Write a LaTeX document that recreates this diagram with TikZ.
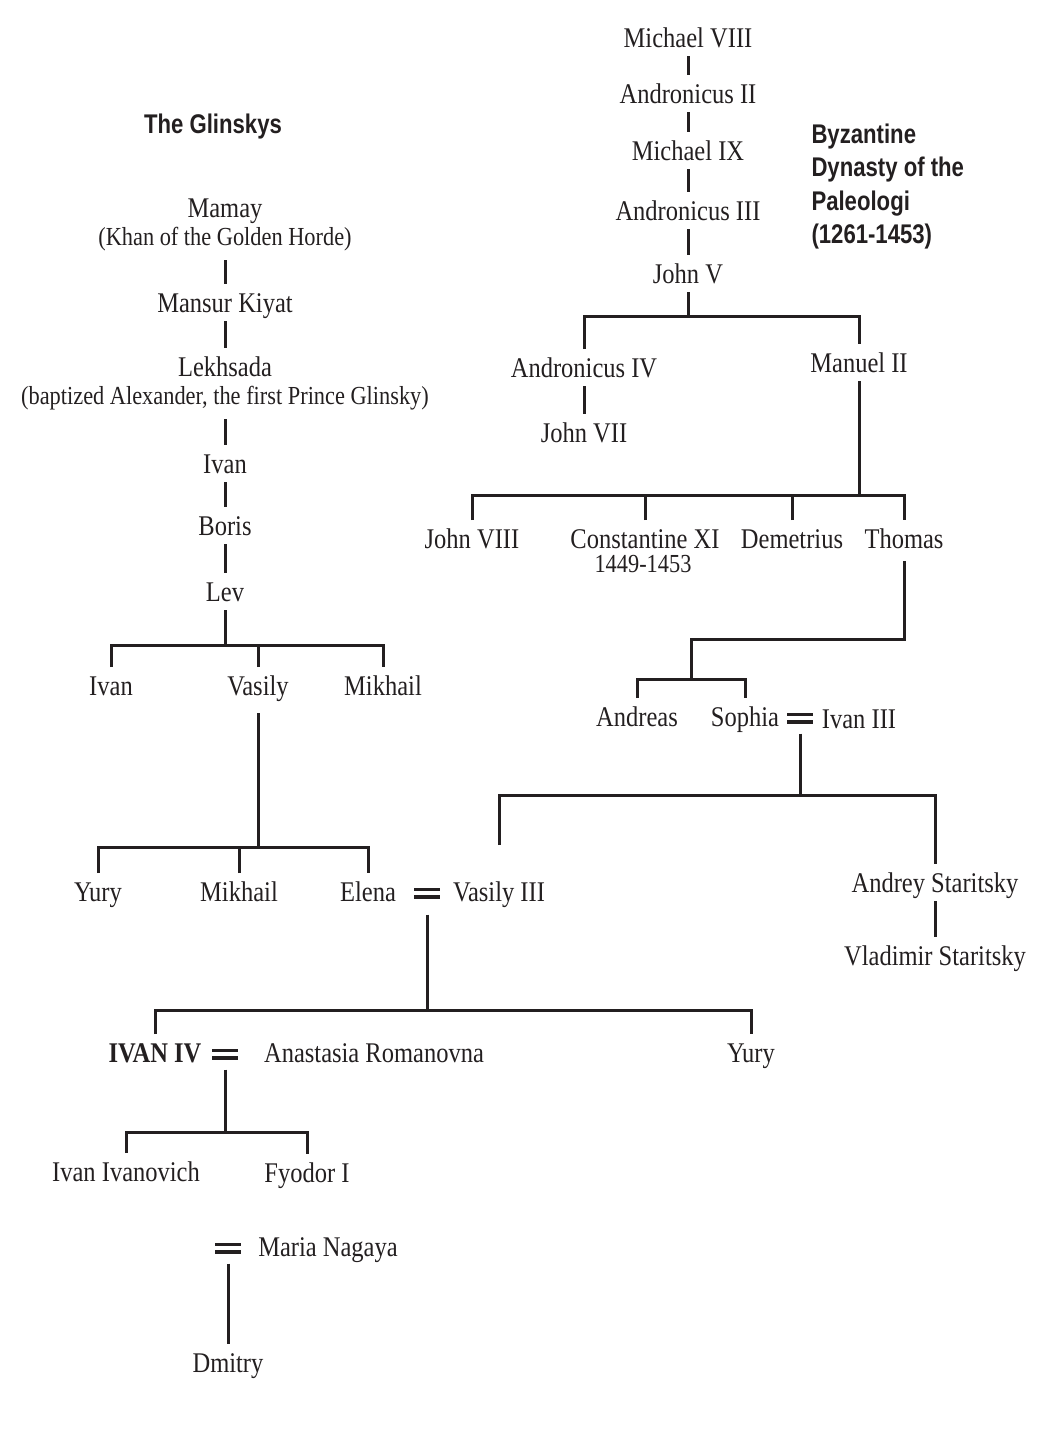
\documentclass[tikz,border=0pt]{standalone}
\usepackage{fontspec}
\usepackage{tikz}

\newfontfamily\namefont{Liberation Serif}[FakeStretch=0.86]
\newfontfamily\headfont{Liberation Sans}[FakeStretch=0.82]
\definecolor{ink}{HTML}{231F20}
\newcommand\wedbars{\vbox{\hrule width 26pt height 3.5pt\kern 4pt\hrule width 26pt height 3.5pt}}

\begin{document}
\begin{tikzpicture}[x=1pt,y=-1pt,line width=3pt,color=ink,
  person/.style={anchor=base,inner sep=0pt,outer sep=6pt,text height=22pt,text depth=3pt,font=\namefont\fontsize{28.5}{34}\selectfont},
  note/.style={person,text height=18pt,text depth=9pt,font=\namefont\fontsize{26}{30}\selectfont},
  ruler/.style={person,font=\namefont\bfseries\fontsize{28.5}{34}\selectfont},
  wed/.style={inner sep=0pt,outer sep=10pt},
  head/.style={inner sep=0pt,font=\headfont\bfseries\fontsize{27}{33.5}\selectfont}]
  \useasboundingbox (0,0) rectangle (1064,1440);

  % the Glinskys
  \node (glinskys)  [head,anchor=base] at (213,133) {The Glinskys};
  \node (mamay)     [person] at (225,217) {Mamay};
  \node (khan)      [note]   at (225,245) {(Khan of the Golden Horde)};
  \node (mansur)    [person] at (225,312) {Mansur Kiyat};
  \node (lekhsada)  [person] at (225,376) {Lekhsada};
  \node (baptized)  [note]   at (225,404) {(baptized Alexander, the first Prince Glinsky)};
  \node (ivanA)     [person] at (225,473) {Ivan};
  \node (boris)     [person] at (225,535) {Boris};
  \node (lev)       [person] at (225,601) {Lev};
  \node (ivanB)     [person] at (111,695) {Ivan};
  \node (vasilyA)   [person] at (258,695) {Vasily};
  \node (mikhailA)  [person] at (383,695) {Mikhail};
  \node (yuryA)     [person] at (98,901)  {Yury};
  \node (mikhailB)  [person] at (239,901) {Mikhail};
  \node (elena)     [person] at (368,901) {Elena};
  \node (elenaeq)   [wed]    at (427,893) {\wedbars};
  \node (vasilyIII) [person] at (499,901) {Vasily III};

  % Ivan IV and his line
  \node (ivaniv)    [ruler]  at (155,1062) {IVAN IV};
  \node (ivaniveq)  [wed]    at (225,1054) {\wedbars};
  \node (anastasia) [person] at (374,1062) {Anastasia Romanovna};
  \node (yuryB)     [person] at (751,1062) {Yury};
  \node (ivanIvanovich) [person] at (126,1181) {Ivan Ivanovich};
  \node (fyodor)    [person] at (307,1182) {Fyodor I};
  \node (mariaeq)   [wed]    at (228,1248) {\wedbars};
  \node (maria)     [person] at (328,1256) {Maria Nagaya};
  \node (dmitry)    [person] at (228,1372) {Dmitry};

  % the Paleologi
  \node (byzantine) [head,anchor=north west,align=left] at (810,122) {Byzantine\\Dynasty of the\\Paleologi\\(1261-1453)};
  \node (michaelVIII)   [person] at (688,47)  {Michael VIII};
  \node (andronicusII)  [person] at (688,103) {Andronicus II};
  \node (michaelIX)     [person] at (688,160) {Michael IX};
  \node (andronicusIII) [person] at (688,220) {Andronicus III};
  \node (johnV)         [person] at (688,283) {John V};
  \node (andronicusIV)  [person] at (584,377) {Andronicus IV};
  \node (manuel)        [person] at (859,372) {Manuel II};
  \node (johnVII)       [person] at (584,442) {John VII};
  \node (johnVIII)      [person] at (472,548) {John VIII};
  \node (constantine)   [person] at (645,548) {Constantine XI};
  \node (constYears)    [note]   at (643,572) {1449-1453};
  \node (demetrius)     [person] at (792,548) {Demetrius};
  \node (thomas)        [person] at (904,548) {Thomas};
  \node (andreas)       [person] at (637,726) {Andreas};
  \node (sophia)        [person] at (745,726) {Sophia};
  \node (sophiaeq)      [wed]    at (800,718) {\wedbars};
  \node (ivanIII)       [person] at (859,728) {Ivan III};
  \node (andrey)        [person] at (935,892) {Andrey Staritsky};
  \node (vladimir)      [person] at (935,965) {Vladimir Staritsky};

  % bars
  \coordinate (levbar)   at (225,645);
  \coordinate (vasbar)   at (258,847);
  \coordinate (elbar)    at (427,1010);
  \coordinate (ivbar)    at (225,1132);
  \coordinate (jvbar)    at (688,316);
  \coordinate (mbar)     at (859,495);
  \coordinate (thturn)   at (691,639);
  \coordinate (sobar)    at (691,679);
  \coordinate (ivIIIbar) at (800,795);

  \draw (khan.south) -- (mansur.north);
  \draw (mansur.south) -- (lekhsada.north);
  \draw (baptized.south) -- (ivanA.north);
  \draw (ivanA.south) -- (boris.north);
  \draw (boris.south) -- (lev.north);
  \draw (lev.south) -- (levbar);
  \draw (ivanB.north) |- (levbar) -| (mikhailA.north);
  \draw (vasilyA.north) -- (vasilyA.north |- levbar);
  \draw ([yshift=-9pt]vasilyA.south) -- (vasbar);
  \draw (yuryA.north) |- (vasbar) -| (elena.north);
  \draw (mikhailB.north) -- (mikhailB.north |- vasbar);
  \draw ([yshift=-6pt]elenaeq.south) -- (elbar);
  \draw (ivaniv.north) |- (elbar) -| (yuryB.north);
  \draw (ivaniveq.south) -- (ivbar);
  \draw (ivanIvanovich.north) |- (ivbar) -| (fyodor.north);
  \draw (mariaeq.south) -- (dmitry.north);

  \draw (michaelVIII.south) -- (andronicusII.north);
  \draw (andronicusII.south) -- (michaelIX.north);
  \draw (michaelIX.south) -- (andronicusIII.north);
  \draw (andronicusIII.south) -- (johnV.north);
  \draw (johnV.south) -- (jvbar);
  \draw (andronicusIV.north) |- (jvbar) -| (manuel.north);
  \draw (andronicusIV.south) -- (johnVII.north);
  \draw (manuel.south) -- (mbar);
  \draw (johnVIII.north) |- (mbar) -| (thomas.north);
  \draw (constantine.north) -- (constantine.north |- mbar);
  \draw (demetrius.north) -- (demetrius.north |- mbar);
  \draw ([yshift=-4pt]thomas.south) |- (thturn) -- (sobar);
  \draw (andreas.north) |- (sobar) -| (sophia.north);
  \draw (sophiaeq.south) -- (ivIIIbar);
  \draw ([yshift=28pt]vasilyIII.north) |- (ivIIIbar) -| (andrey.north);
  \draw (andrey.south) -- (vladimir.north);
\end{tikzpicture}
\end{document}
